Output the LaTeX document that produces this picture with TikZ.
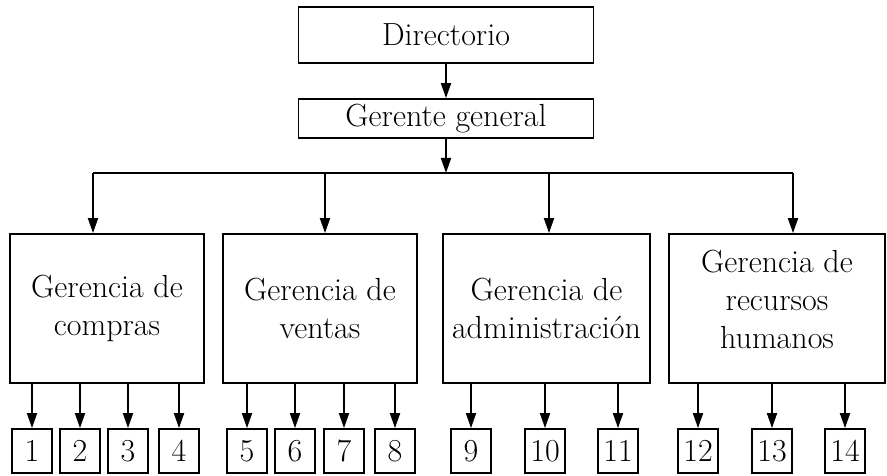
\documentclass[tikz,border=0pt]{standalone}
\usetikzlibrary{arrows.meta}
\begin{document}
\begin{tikzpicture}[x=1pt,y=-1pt,
  every node/.style={font=\fontsize{32}{38}\selectfont},
  box/.style={draw,line width=1.8pt,rectangle,inner sep=0pt,align=center},
  num/.style={box,minimum width=40pt,minimum height=44pt},
  mgr/.style={box,minimum height=149pt},
  conn/.style={line width=1.8pt,-{Triangle[length=15pt,width=10pt]}},
  bus/.style={line width=1.8pt}]
\useasboundingbox (0,0) rectangle (887,476);
% top
\node[box,minimum width=295pt,minimum height=56pt] (d) at (446,35) {Directorio};
\node[box,minimum width=295pt,minimum height=39pt] (g) at (446,118.5) {Gerente general};
\coordinate (bc) at (446,173);
\coordinate (bl) at (93,173);
\coordinate (b2) at (325,173);
\coordinate (b3) at (549,173);
\coordinate (br) at (793,173);
% managers
\node[mgr,minimum width=194pt] (m1) at (107,308.5) {Gerencia de\\compras};
\node[mgr,minimum width=194pt] (m2) at (320,308.5) {Gerencia de\\ventas};
\node[mgr,minimum width=207pt] (m3) at (546.5,308.5) {Gerencia de\\administración};
\node[mgr,minimum width=216pt,label={[align=center,yshift=9pt]center:Gerencia de\\recursos\\humanos}] (m4) at (777,308.5) {};
% connectors top
\draw[conn] (d) -- (g);
\draw[conn] (g) -- (bc);
\draw[bus] (bl) -- (br);
\draw[conn] (bl) -- (bl |- m1.north);
\draw[conn] (b2) -- (b2 |- m2.north);
\draw[conn] (b3) -- (b3 |- m3.north);
\draw[conn] (br) -- (br |- m4.north);
% numbered boxes
\foreach \n/\x/\m in {1/32/m1,2/80/m1,3/128/m1,4/179/m1,
                      5/247/m2,6/295/m2,7/344/m2,8/395/m2,
                      9/471/m3,10/545/m3,11/618/m3,
                      12/698/m4,13/772/m4,14/845/m4}{
  \node[num] (n\n) at (\x,451) {\n};
  \draw[conn] (n\n.north |- \m.south) -- (n\n.north);
}
\end{tikzpicture}
\end{document}
